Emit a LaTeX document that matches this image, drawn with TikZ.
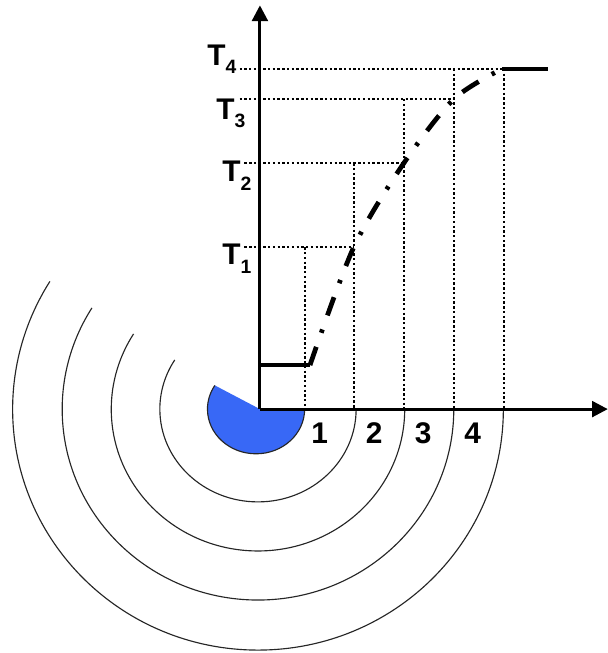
\documentclass[tikz,border=0pt]{standalone}
\usepackage{fontspec}
\setmainfont{Liberation Sans}
\usetikzlibrary{arrows.meta}
\definecolor{sectorblue}{RGB}{56,104,246}
\tikzset{
  axis/.style  = {line width=1.7pt, -{Triangle[length=9pt, width=9pt]}},
  guide/.style = {line width=1.35pt, dash pattern=on 1.35pt off 1.35pt},
  wave/.style  = {line width=0.65pt, draw=black!85},
  resp/.style  = {line width=2.6pt},
  ramp/.style  = {line width=2.7pt, dash pattern=on 11pt off 8.5pt on 2pt off 8.5pt},
  tlab/.style  = {font=\fontsize{17}{20}\selectfont\bfseries, inner sep=0pt, anchor=north west},
  num/.style   = {font=\fontsize{17}{20}\selectfont\bfseries, inner sep=0pt},
}
\newcommand{\tsub}[1]{T\raisebox{-5pt}{\fontsize{11}{11}\selectfont #1}}

\begin{document}
\begin{tikzpicture}[x=0.972cm, y=0.972cm]
  \useasboundingbox (-5.35,-5.02) rectangle (7.16,8.42);
  \coordinate (O)    at (0,0);
  \coordinate (xend) at (7.16,0);
  \coordinate (yend) at (0,8.31);

  % ---- wave fronts and source --------------------------------------------
  \foreach \rx/\ry in {2.02/1.91, 3.02/2.92, 4.03/3.93, 5.05/4.96} {
     \draw[wave] (\rx-0.04,0) arc[start angle=0, end angle=-212, x radius=\rx, y radius=\ry];
  }
  \fill[sectorblue] (0.92,0) arc[start angle=0, end angle=-212, x radius=1.0, y radius=0.92] -- (O) -- cycle;
  \draw[wave] (0.92,0) arc[start angle=0, end angle=-212, x radius=1.0, y radius=0.92];

  % ---- guide lines -------------------------------------------------------
  \foreach \x/\y in {0.93/3.33, 1.93/5.06, 2.96/6.38, 3.99/7.00, 5.02/7.00} {
     \draw[guide] (\x,\y) -- (\x,0);
  }
  \foreach \y/\a/\b in {3.33/-0.32/1.93, 5.06/-0.32/2.96, 6.38/-0.42/3.99, 7.00/-0.42/5.02} {
     \draw[guide] (\a,\y) -- (\b,\y);
  }

  % ---- response ----------------------------------------------------------
  \draw[resp] (0,0.905) -- (1.03,0.905);
  \draw[ramp] plot[smooth, tension=0.5] coordinates {(1.03,0.905) (1.93,3.33) (2.96,5.06) (3.99,6.38) (4.98,7.0)};
  \draw[resp] (4.98,7.0) -- (5.93,7.0);

  % ---- axes --------------------------------------------------------------
  \draw[axis] (O) -- (xend);
  \draw[axis] (O) -- (yend);

  % ---- labels ------------------------------------------------------------
  \foreach \x/\n in {1.23/1, 2.35/2, 3.36/3, 4.38/4} {
     \node[num] (n\n) at (\x,-0.49) {\n};
  }
  \foreach \x/\y/\n in {-0.78/3.40/1, -0.78/5.12/2, -0.905/6.40/3, -1.09/7.51/4} {
     \node[tlab] (t\n) at (\x,\y) {\tsub{\n}};
  }
\end{tikzpicture}
\end{document}
